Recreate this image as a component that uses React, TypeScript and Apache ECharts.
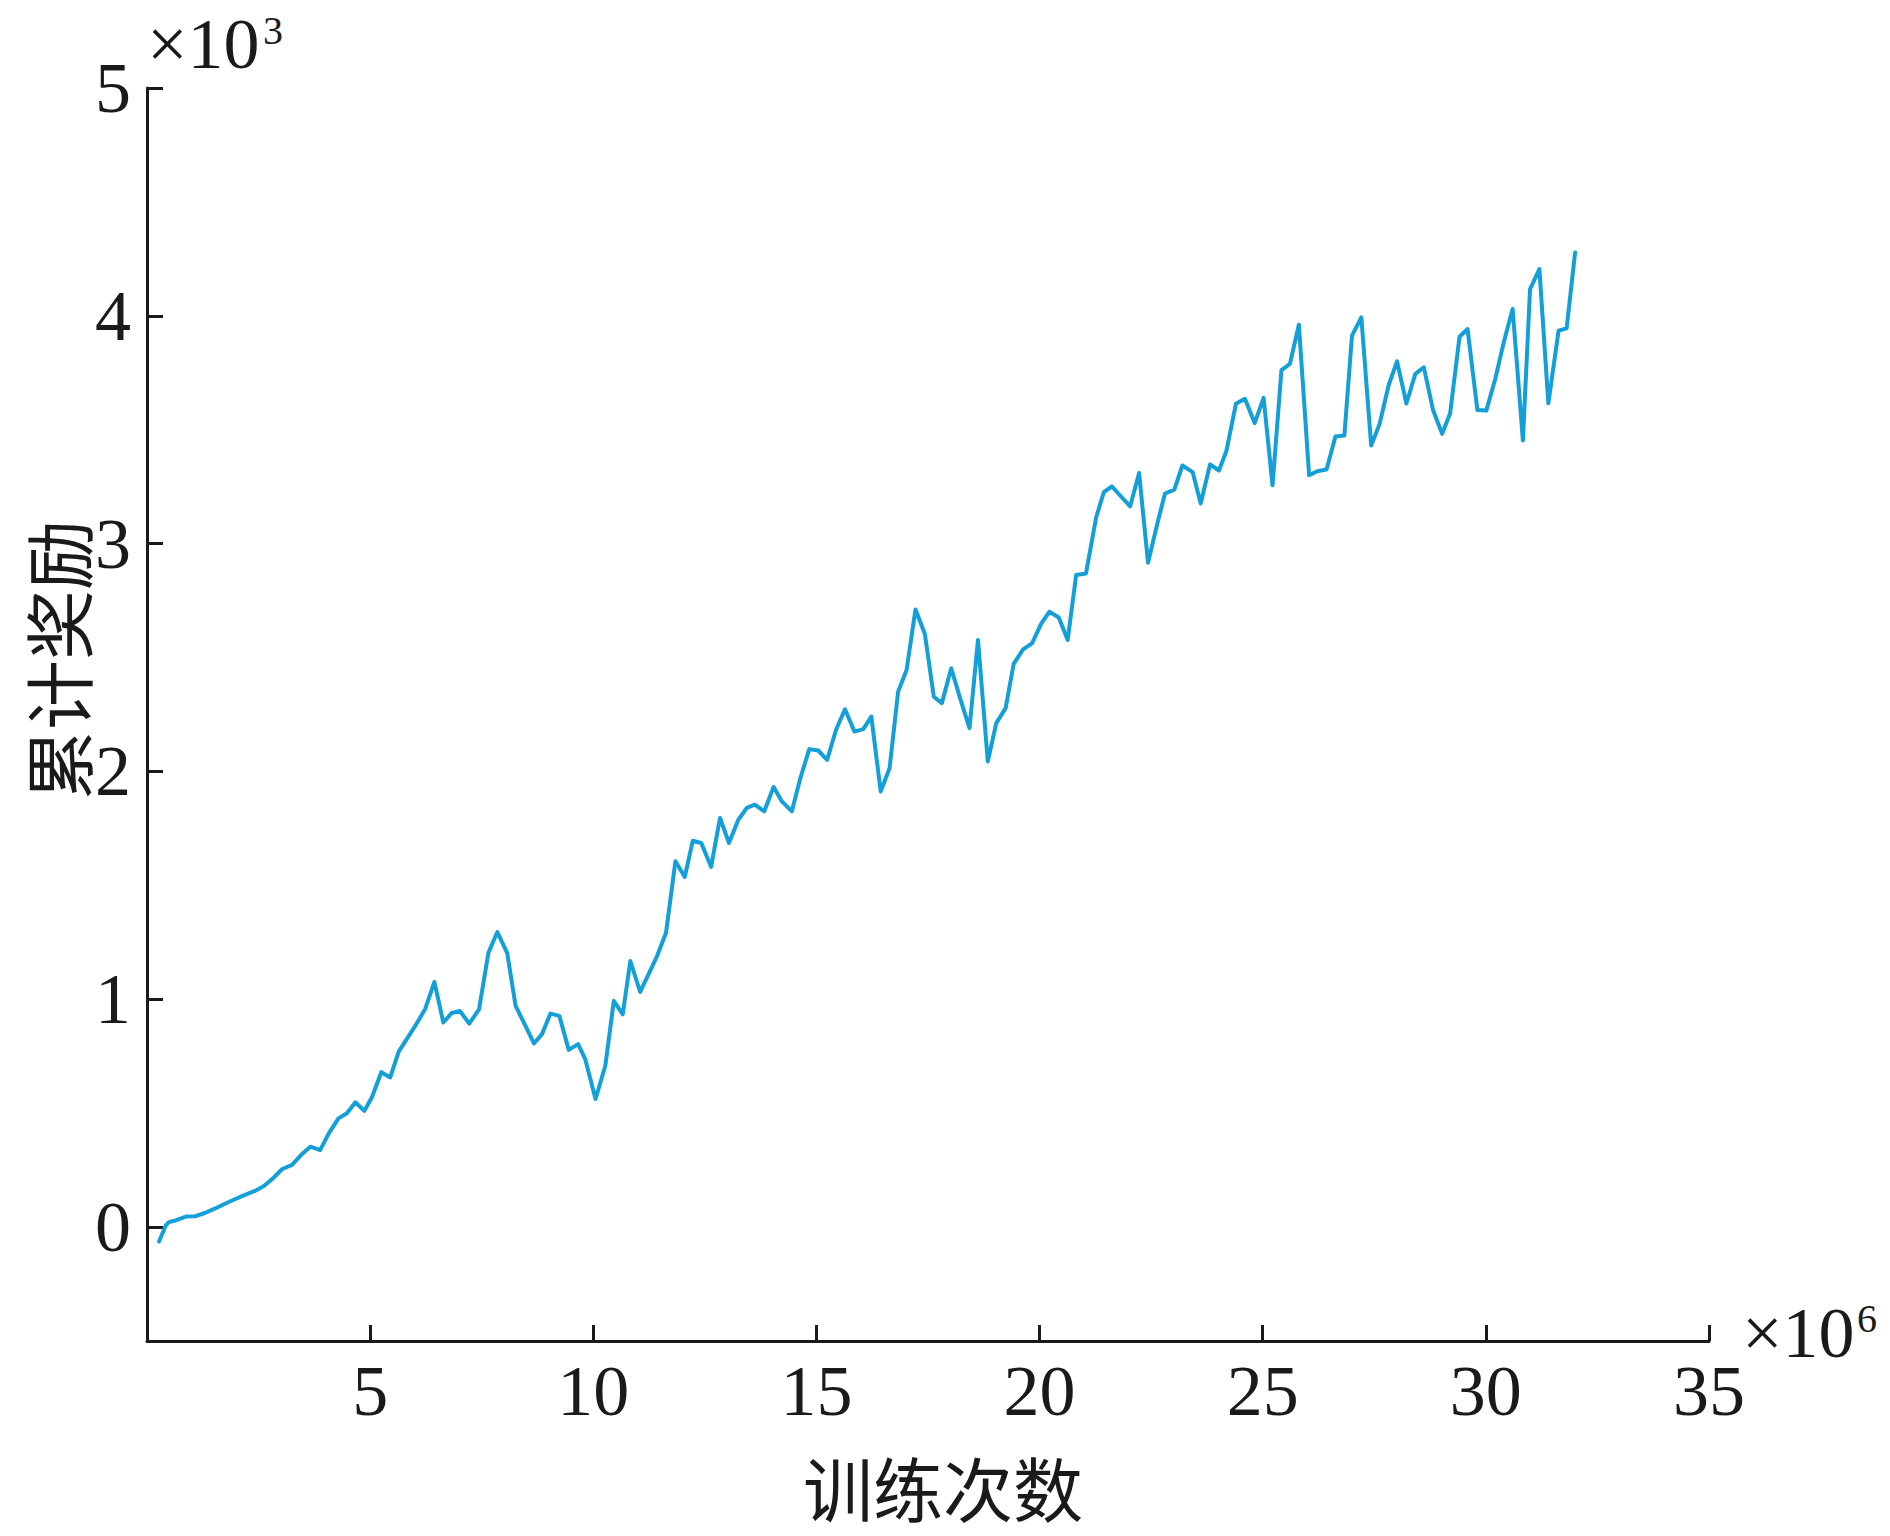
import { useEffect, useRef } from "react";
import * as echarts from "echarts";

// x: training steps (×10^6), y: cumulative reward (×10^3)
const steps = [
  0.27, 0.42, 0.49, 0.64, 0.87, 1.09, 1.31, 1.54, 1.83, 2.13, 2.43, 2.62, 2.8, 3.03, 3.25, 3.47, 3.66, 3.88,
  4.07, 4.29, 4.48, 4.67, 4.87, 5.04, 5.25, 5.45, 5.64, 5.82, 6.01, 6.23, 6.44, 6.64, 6.83, 7.01, 7.22, 7.44,
  7.65, 7.85, 8.07, 8.26, 8.48, 8.67, 8.85, 9.04, 9.24, 9.45, 9.66, 9.82, 10.05, 10.27, 10.46, 10.66, 10.83,
  11.05, 11.24, 11.43, 11.63, 11.84, 12.05, 12.23, 12.42, 12.64, 12.84, 13.04, 13.25, 13.44, 13.62, 13.83,
  14.04, 14.22, 14.45, 14.63, 14.84, 15.04, 15.24, 15.44, 15.64, 15.85, 16.05, 16.23, 16.44, 16.64, 16.83,
  17.02, 17.22, 17.43, 17.63, 17.81, 18.02, 18.22, 18.43, 18.62, 18.84, 19.03, 19.24, 19.42, 19.63, 19.83,
  20.04, 20.22, 20.43, 20.63, 20.82, 21.04, 21.27, 21.44, 21.62, 21.82, 22.03, 22.23, 22.43, 22.63, 22.81,
  23.02, 23.2, 23.43, 23.61, 23.82, 24.02, 24.19, 24.4, 24.6, 24.82, 25.02, 25.22, 25.42, 25.61, 25.81,
  26.04, 26.22, 26.43, 26.63, 26.83, 27.0, 27.21, 27.43, 27.62, 27.82, 28.01, 28.22, 28.42, 28.61, 28.82,
  29.02, 29.2, 29.41, 29.59, 29.81, 30.01, 30.21, 30.41, 30.6, 30.83, 30.99, 31.2, 31.4, 31.63, 31.81, 32.0,
];

const rewards = [
  -0.063, 0.007, 0.022, 0.029, 0.046, 0.048, 0.063, 0.083, 0.11, 0.136, 0.16, 0.18, 0.21, 0.255, 0.273, 0.32,
  0.353, 0.338, 0.41, 0.477, 0.5, 0.548, 0.51, 0.57, 0.68, 0.657, 0.77, 0.825, 0.883, 0.956, 1.076, 0.898,
  0.94, 0.949, 0.893, 0.956, 1.204, 1.295, 1.204, 0.971, 0.883, 0.806, 0.847, 0.937, 0.927, 0.778, 0.803,
  0.737, 0.562, 0.708, 0.993, 0.934, 1.168, 1.032, 1.11, 1.19, 1.292, 1.606, 1.537, 1.696, 1.686, 1.581,
  1.796, 1.686, 1.788, 1.84, 1.854, 1.825, 1.932, 1.87, 1.825, 1.964, 2.098, 2.092, 2.051, 2.183, 2.273,
  2.175, 2.186, 2.241, 1.912, 2.015, 2.35, 2.445, 2.711, 2.603, 2.328, 2.3, 2.453, 2.321, 2.19, 2.577, 2.044,
  2.212, 2.278, 2.472, 2.536, 2.562, 2.65, 2.701, 2.676, 2.577, 2.862, 2.869, 3.117, 3.226, 3.251, 3.208,
  3.164, 3.31, 2.916, 3.081, 3.22, 3.237, 3.343, 3.314, 3.176, 3.348, 3.321, 3.409, 3.614, 3.636, 3.529,
  3.64, 3.256, 3.762, 3.789, 3.961, 3.3, 3.318, 3.325, 3.47, 3.475, 3.913, 3.993, 3.431, 3.526, 3.694, 3.8,
  3.615, 3.745, 3.774, 3.584, 3.482, 3.572, 3.908, 3.942, 3.587, 3.584, 3.723, 3.891, 4.03, 3.453, 4.117,
  4.205, 3.616, 3.935, 3.945, 4.278,
];

const xTicks = [5, 10, 15, 20, 25, 30, 35];
const yTicks = [0, 1, 2, 3, 4, 5];
const xTitle = "训练次数";
const yTitle = "累计奖励";
const xUnit = "×10";
const xUnitExp = "6";
const yUnit = "×10";
const yUnitExp = "3";

const INK = "#1a1a1a";
const SERIF = "Liberation Serif";
const CJK = "Noto Sans CJK SC";

export default function App() {
  const ref = useRef<HTMLDivElement>(null);

  useEffect(() => {
    if (!ref.current) return;
    const chart = echarts.init(ref.current, undefined, { renderer: "svg" });
    const axisCommon = {
      type: "value" as const,
      axisLine: { show: true, onZero: false, lineStyle: { color: INK, width: 3 } },
      splitLine: { show: false },
    };
    chart.setOption({
      animation: false,
      backgroundColor: "#ffffff",
      grid: { left: 147, right: 181, top: 88, bottom: 195, containLabel: false, outerBoundsMode: "none" },
      xAxis: {
        ...axisCommon,
        min: 0,
        max: 35,
        axisTick: { show: true, inside: true, length: 16, lineStyle: { color: INK, width: 3 }, customValues: xTicks },
        axisLabel: { customValues: xTicks, fontFamily: SERIF, fontSize: 72, color: INK, margin: 14 },
      },
      yAxis: {
        ...axisCommon,
        min: -0.5,
        max: 5,
        axisTick: { show: true, inside: true, length: 16, lineStyle: { color: INK, width: 3 }, customValues: yTicks },
        axisLabel: { customValues: yTicks, fontFamily: SERIF, fontSize: 72, color: INK, margin: 16 },
      },
      series: [
        {
          type: "line",
          data: steps.map((x, i) => [x, rewards[i]]),
          symbol: "none",
          showSymbol: false,
          lineStyle: { color: "#139fd8", width: 4, join: "round", cap: "round" },
          itemStyle: { color: "#139fd8" },
        },
      ],
      graphic: [
        { type: "text", x: 147, y: 44, style: { text: yUnit, fontFamily: SERIF, fontSize: 72, fill: INK, align: "left", verticalAlign: "middle" } },
        { type: "text", x: 263, y: 30, style: { text: yUnitExp, fontFamily: SERIF, fontSize: 40, fill: INK, align: "left", verticalAlign: "middle" } },
        { type: "text", x: 1742, y: 1333, style: { text: xUnit, fontFamily: SERIF, fontSize: 72, fill: INK, align: "left", verticalAlign: "middle" } },
        { type: "text", x: 1857, y: 1318, style: { text: xUnitExp, fontFamily: SERIF, fontSize: 40, fill: INK, align: "left", verticalAlign: "middle" } },
        { type: "text", x: 943, y: 1486, style: { text: xTitle, fontFamily: CJK, fontSize: 70, lineHeight: 70, fill: INK, align: "center", verticalAlign: "middle" } },
        { type: "text", x: 56, y: 660, rotation: Math.PI / 2, style: { text: yTitle, fontFamily: CJK, fontSize: 70, lineHeight: 70, fill: INK, align: "center", verticalAlign: "middle" } },
      ],
    });
    return () => chart.dispose();
  }, []);

  return <div ref={ref} style={{ position: "fixed", left: 0, top: 0, width: 1890, height: 1536 }} />;
}
